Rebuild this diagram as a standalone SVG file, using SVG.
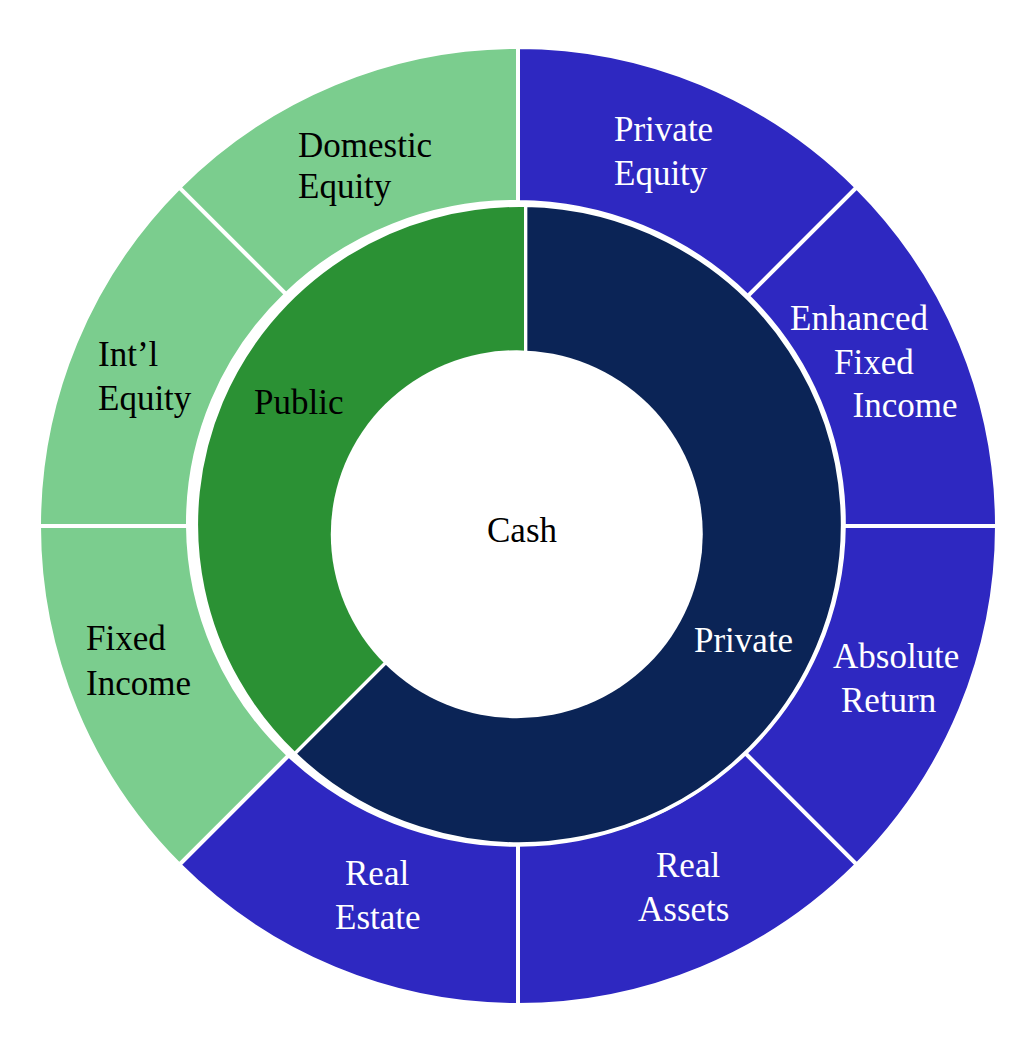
<svg xmlns="http://www.w3.org/2000/svg" width="1031" height="1044" viewBox="0 0 1031 1044">
<style>
.seg{stroke:#fff;stroke-width:4;stroke-linejoin:miter}
.lg{fill:#7BCD8E}
.bl{fill:#2E28C1}
.in{stroke:#fff;stroke-width:3.3}
text{font-family:"Liberation Serif","Times New Roman",serif;font-size:35px}
.k{fill:#000}
.w{fill:#fff}
</style>
<rect width="1031" height="1044" fill="#fff"/>
<g id="outer-ring">
<g id="private-equity"><path class="seg bl" d="M518,47 A479,479 0 0 1 856.7,187.3 L747.8,296.2 A327.9,321.4 0 0 0 518,202 Z"/>
<text class="w" x="614" y="141">Private</text><text class="w" x="614" y="185">Equity</text></g>
<g id="enhanced-fixed-income"><path class="seg bl" d="M856.7,187.3 A479,479 0 0 1 997,526 L843.8,526 A327.9,321.4 0 0 0 747.8,296.2 Z"/>
<text class="w" x="790" y="330">Enhanced</text><text class="w" x="834" y="374">Fixed</text><text class="w" x="852.5" y="417">Income</text></g>
<g id="absolute-return"><path class="seg bl" d="M997,526 A479,479 0 0 1 856.7,864.7 L745.2,753.2 A327.9,321.4 0 0 0 843.8,526 Z"/>
<text class="w" x="833" y="668">Absolute</text><text class="w" x="841" y="712">Return</text></g>
<g id="real-assets"><path class="seg bl" d="M856.7,864.7 A479,479 0 0 1 518,1005 L518,844.8 A327.9,321.4 0 0 0 745.2,753.2 Z"/>
<text class="w" x="656" y="877">Real</text><text class="w" x="638" y="921">Assets</text></g>
<g id="real-estate"><path class="seg bl" d="M518,1005 A479,479 0 0 1 179.3,864.7 L288.8,755.2 A327.9,321.4 0 0 0 518,844.8 Z"/>
<text class="w" x="345" y="885">Real</text><text class="w" x="335" y="929">Estate</text></g>
<g id="fixed-income"><path class="seg lg" d="M179.3,864.7 A479,479 0 0 1 39,526 L188,526 A327.9,321.4 0 0 0 288.8,755.2 Z"/>
<text class="k" x="86" y="650">Fixed</text><text class="k" x="86" y="695">Income</text></g>
<g id="intl-equity"><path class="seg lg" d="M39,526 A479,479 0 0 1 179.3,187.3 L286.1,294.1 A327.9,321.4 0 0 0 188,526 Z"/>
<text class="k" x="98" y="366">Int’l</text><text class="k" x="98" y="410">Equity</text></g>
<g id="domestic-equity"><path class="seg lg" d="M179.3,187.3 A479,479 0 0 1 518,47 L518,202 A327.9,321.4 0 0 0 286.1,294.1 Z"/>
<text class="k" x="298" y="157">Domestic</text><text class="k" x="298" y="198">Equity</text></g>
</g>
<g id="inner-ring">
<g id="public"><path class="in" fill="#2B9134" d="M525.7,522.8 L525.7,205.4 A323,319.2 0 0 0 294.7,753.8 Z"/></g>
<g id="private"><path class="in" fill="#0B2456" d="M525.7,522.8 L525.7,205.4 A323,319.2 0 1 1 294.7,753.8 Z"/></g>
</g>
<g id="cash"><ellipse cx="516.8" cy="534.2" rx="186" ry="184" fill="#fff"/>
<text class="k" x="522" y="542" text-anchor="middle">Cash</text></g>
<g id="inner-labels">
<text class="k" x="254" y="414">Public</text>
<text class="w" x="694" y="652">Private</text>
</g>
<g id="connectors"/>
</svg>
